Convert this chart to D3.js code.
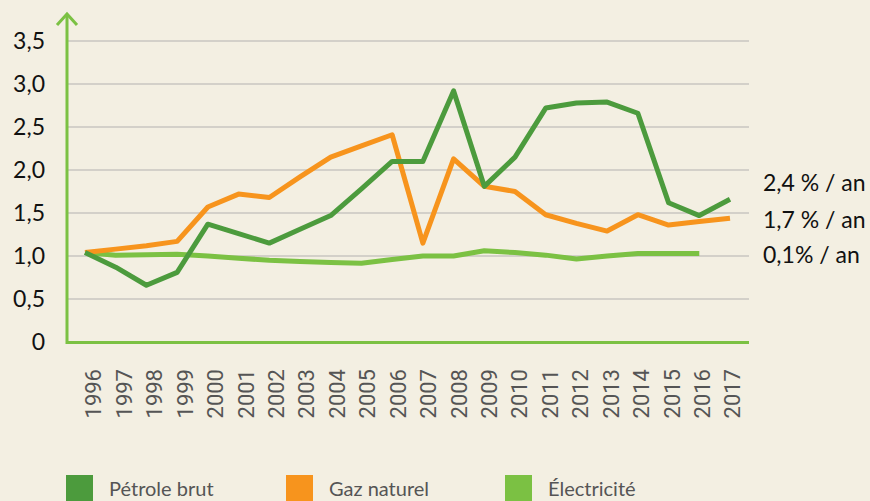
<!DOCTYPE html>
<html>
<head>
<meta charset="utf-8">
<script src="https://cdn.jsdelivr.net/npm/d3@7"></script>
<style>
  body { margin: 0; background: #f3efe2; }
  svg { display: block; }
</style>
</head>
<body>
<div id="chart"></div>
<script>
// data
var years = ["1996", "1997", "1998", "1999", "2000", "2001", "2002", "2003", "2004", "2005", "2006",
    "2007", "2008", "2009", "2010", "2011", "2012", "2013", "2014", "2015", "2016", "2017"];
var petrole = [1.04, 0.87, 0.66, 0.81, 1.37, 1.26, 1.15, 1.31, 1.47, 1.78, 2.10,
    2.10, 2.92, 1.81, 2.15, 2.72, 2.78, 2.79, 2.66, 1.62, 1.47, 1.66];
var gaz = [1.04, 1.08, 1.12, 1.17, 1.57, 1.72, 1.68, 1.92, 2.15, 2.28, 2.41,
    1.15, 2.13, 1.81, 1.75, 1.48, 1.38, 1.29, 1.48, 1.36, 1.40, 1.44];
var electricite = [1.04, 1.01, 1.015, 1.02, 1.0, 0.975, 0.95, 0.935, 0.925, 0.915, 0.96,
    1.0, 1.0, 1.06, 1.04, 1.01, 0.965, 1.0, 1.03, 1.03, 1.03];
var yTicks = [0, 0.5, 1, 1.5, 2, 2.5, 3, 3.5];
var seriesNames = ["Pétrole brut", "Gaz naturel", "Électricité"];
var rateLabels = ["2,4\u202F% / an", "1,7\u202F% / an", "0,1% / an"];
var rateValues = [1.85, 1.42, 1.01];

var colors = ["#4c9b3d", "#f7941d", "#7bc143"];

var w = 870, h = 501;
var svg = d3.select("#chart").append("svg")
    .attr("width", w)
    .attr("height", h);

var x = d3.scalePoint().domain(years).range([85, 730]);
var xLabel = d3.scalePoint().domain(years).range([93, 732]);
var y = d3.scaleLinear().domain([0, 3.5]).range([342, 41]);

var axisLeft = 67, axisRight = 749;

// grid lines
svg.append("g")
    .selectAll("line")
    .data(yTicks.filter(function (d) { return d > 0; }))
    .enter()
    .append("line")
    .attr("x1", axisLeft)
    .attr("x2", axisRight)
    .attr("y1", function (d) { return y(d); })
    .attr("y2", function (d) { return y(d); })
    .attr("stroke", "#c8c6c0")
    .attr("stroke-width", 1.5);

// y tick labels
svg.append("g")
    .selectAll("text")
    .data(yTicks)
    .enter()
    .append("text")
    .attr("x", 45)
    .attr("y", function (d) { return y(d); })
    .attr("dy", "0.35em")
    .attr("text-anchor", "end")
    .attr("font-family", "Lato, sans-serif")
    .attr("font-size", 23)
    .attr("fill", "#111")
    .text(function (d) { return d === 0 ? "0" : d.toFixed(1).replace(".", ","); });

// x labels through an axis
var xAxis = svg.append("g")
    .attr("transform", "translate(0,369)")
    .call(d3.axisBottom(xLabel).tickSize(0).tickPadding(0));
xAxis.select(".domain").remove();
xAxis.selectAll("text")
    .attr("transform", "rotate(-90)")
    .attr("x", 0)
    .attr("y", 0)
    .attr("dy", "0.36em")
    .attr("text-anchor", "end")
    .attr("font-family", "Roboto, sans-serif")
    .attr("font-size", 22)
    .attr("fill", "#555");

// lines
var line = d3.line()
    .x(function (d, i) { return x(years[i]); })
    .y(function (d) { return y(d); });

var allSeries = [electricite, gaz, petrole];
var allColors = [colors[2], colors[1], colors[0]];
svg.append("g")
    .selectAll("path")
    .data(allSeries)
    .enter()
    .append("path")
    .attr("d", line)
    .attr("fill", "none")
    .attr("stroke", function (d, i) { return allColors[i]; })
    .attr("stroke-width", 5)
    .attr("stroke-linejoin", "round");

// axes
svg.append("line")
    .attr("x1", axisLeft).attr("x2", axisRight)
    .attr("y1", 342.5).attr("y2", 342.5)
    .attr("stroke", "#7bc143").attr("stroke-width", 3);
svg.append("line")
    .attr("x1", axisLeft).attr("x2", axisLeft)
    .attr("y1", 344).attr("y2", 14)
    .attr("stroke", "#7bc143").attr("stroke-width", 3);
svg.append("path")
    .attr("d", "M" + (axisLeft - 10) + ",25L" + axisLeft + ",14L" + (axisLeft + 10) + ",25")
    .attr("fill", "none")
    .attr("stroke", "#7bc143").attr("stroke-width", 3);

// rate labels on the right
svg.append("g")
    .selectAll("text")
    .data(rateLabels)
    .enter()
    .append("text")
    .attr("x", 763)
    .attr("y", function (d, i) { return y(rateValues[i]); })
    .attr("dy", "0.35em")
    .attr("font-family", "Lato, sans-serif")
    .attr("font-size", 23)
    .attr("fill", "#111")
    .text(function (d) { return d; });

// legend
var legendX = [66, 286, 505];
var legend = svg.append("g")
    .selectAll("g")
    .data(seriesNames)
    .enter()
    .append("g")
    .attr("transform", function (d, i) { return "translate(" + legendX[i] + ",475)"; });
legend.append("rect")
    .attr("width", 27)
    .attr("height", 27)
    .attr("fill", function (d, i) { return colors[i]; });
legend.append("text")
    .attr("x", 43)
    .attr("y", 21)
    .attr("font-family", "Lato, sans-serif")
    .attr("font-size", 20)
    .attr("fill", "#555")
    .text(function (d) { return d; });
</script>
</body>
</html>
